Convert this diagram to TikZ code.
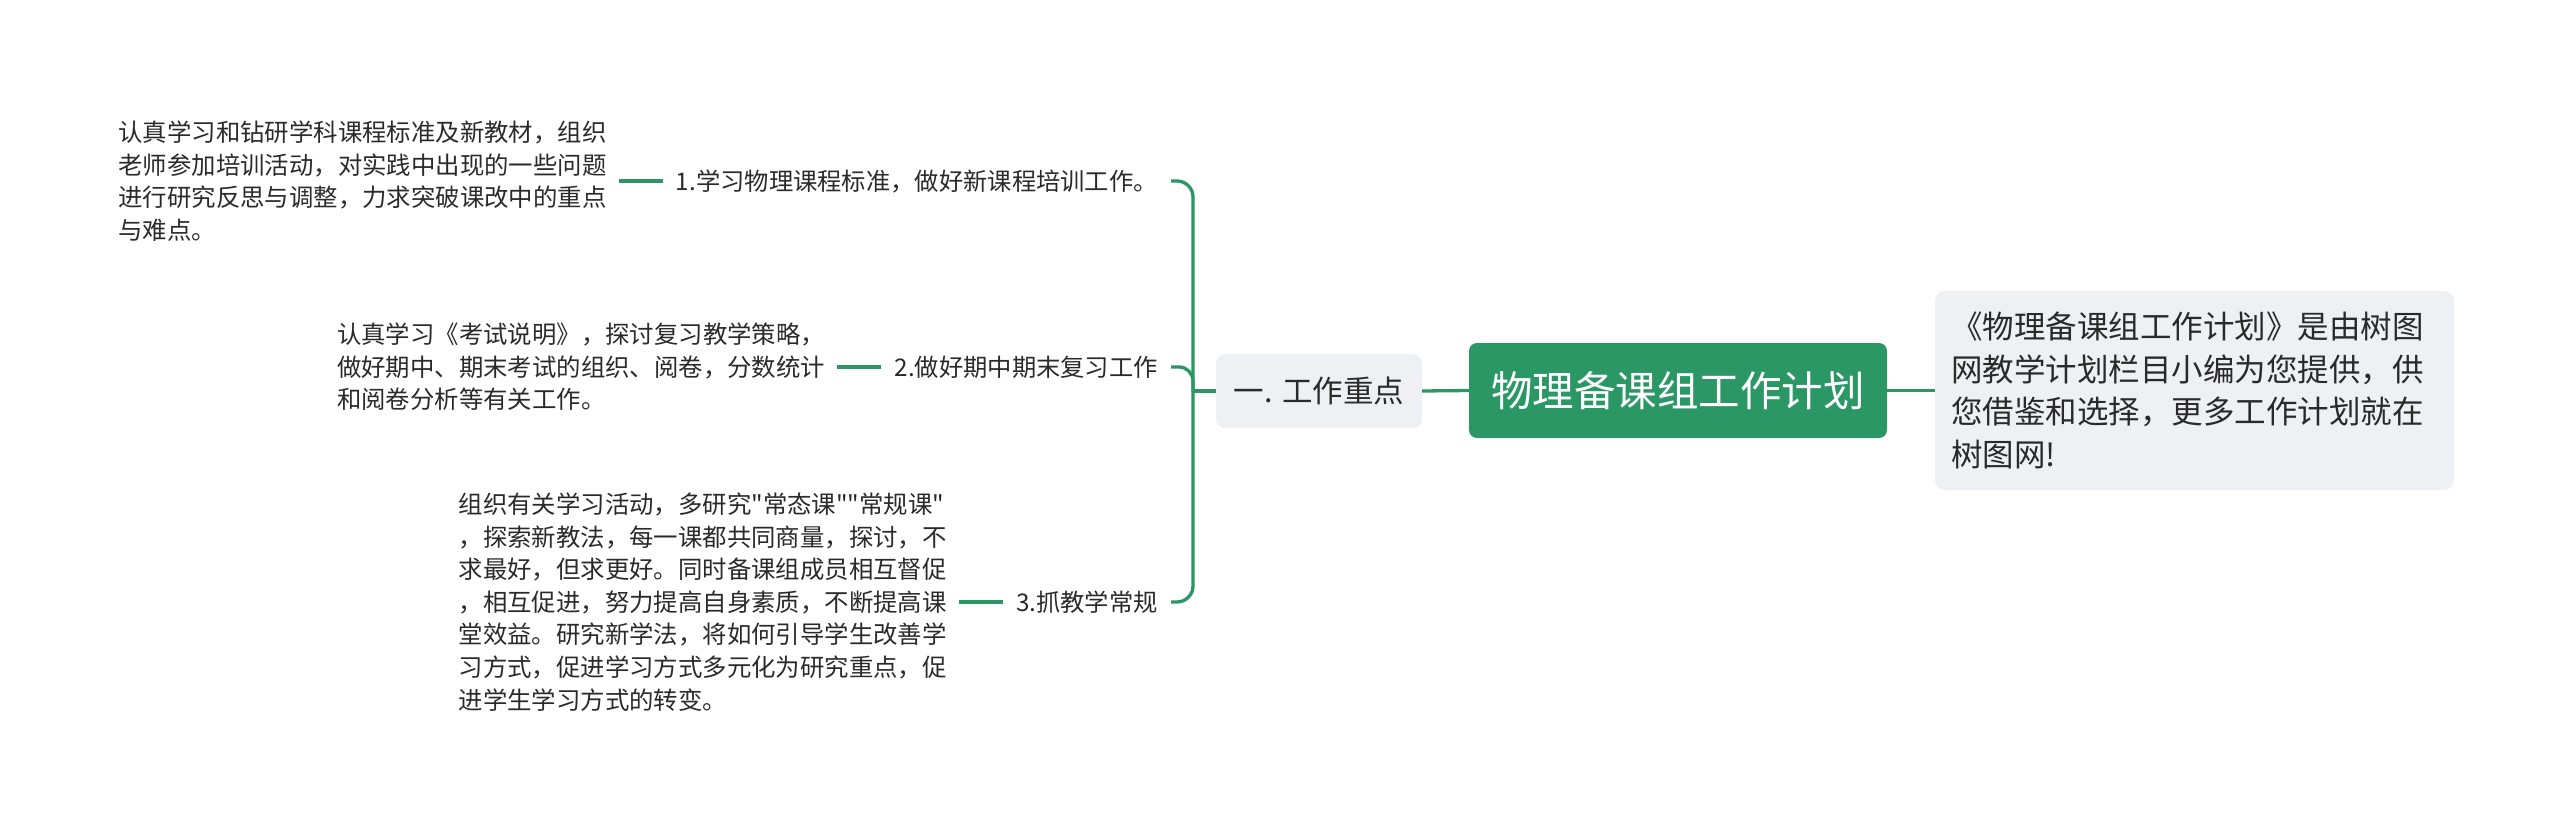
\documentclass[tikz,border=0pt]{standalone}
\usepackage{fontspec}
\setmainfont{Noto Sans CJK SC}[Ligatures=TeXOff]
\definecolor{mgreen}{HTML}{2B9765}
\definecolor{lgray}{HTML}{EEF0F3}
\definecolor{txt}{HTML}{2A2A2A}
\tikzset{
  rootbox/.style={fill=mgreen, text=white, rounded corners=8pt, minimum width=418pt, minimum height=95pt, inner sep=0pt, font=\fontsize{41.5}{50}\selectfont},
  secbox/.style={fill=lgray, text=txt, rounded corners=9pt, minimum width=206pt, minimum height=74pt, inner sep=0pt, font=\fontsize{30.5}{36}\selectfont},
  infobox/.style={fill=lgray, text=txt, rounded corners=10pt, text width=487pt, inner xsep=16pt, minimum height=199pt, align=left, font=\fontsize{31.5}{42.5}\selectfont},
  lab/.style={text=txt, inner xsep=13pt, inner ysep=2pt, font=\fontsize{24.3}{32.5}\selectfont},
  leaf/.style={text=txt, inner xsep=12pt, inner ysep=0pt, align=left, font=\fontsize{24.4}{32.6}\selectfont},
  conn/.style={draw=mgreen, line width=3.3pt},
}
\begin{document}
\begin{tikzpicture}[x=1pt,y=-1pt]
\useasboundingbox (0,0) rectangle (2560,829);
\node[rootbox] (root) at (1678,390.5) {物理备课组工作计划};
\node[secbox] (sec) at (1319,391) {一. 工作重点};
\node[infobox] (info) at (2194.5,390.5) {《物理备课组工作计划》是由树图\\网教学计划栏目小编为您提供，供\\您借鉴和选择，更多工作计划就在\\树图网!};
\coordinate (sp) at (1193,391);
\node[lab, anchor=east] (l1) at (1171,181) {1.学习物理课程标准，做好新课程培训工作。};
\node[lab, anchor=east] (l2) at (1171,367) {2.做好期中期末复习工作};
\node[lab, anchor=east] (l3) at (1171,602) {3.抓教学常规};
\node[leaf, anchor=east] (f1) at ([xshift=-44pt]l1.west) {认真学习和钻研学科课程标准及新教材，组织\\老师参加培训活动，对实践中出现的一些问题\\进行研究反思与调整，力求突破课改中的重点\\与难点。};
\node[leaf, anchor=east] (f2) at ([xshift=-44pt]l2.west) {认真学习《考试说明》，探讨复习教学策略，\\做好期中、期末考试的组织、阅卷，分数统计\\和阅卷分析等有关工作。};
\node[leaf, anchor=east] (f3) at ([xshift=-44pt]l3.west) {组织有关学习活动，多研究"常态课""常规课"\\，探索新教法，每一课都共同商量，探讨，不\\求最好，但求更好。同时备课组成员相互督促\\，相互促进，努力提高自身素质，不断提高课\\堂效益。研究新学法，将如何引导学生改善学\\习方式，促进学习方式多元化为研究重点，促\\进学生学习方式的转变。};
\draw[conn] (root.east) -- (info.west);
\draw[conn] (sec.east) -- (root.west);
\draw[conn] (sec.west) -- (sp);
\draw[conn, rounded corners=16pt] (sp) |- (l1.east);
\draw[conn, rounded corners=14pt] (sp) |- (l2.east);
\draw[conn, rounded corners=16pt] (sp) |- (l3.east);
\draw[conn] (l1.west) -- (f1.east);
\draw[conn] (l2.west) -- (f2.east);
\draw[conn] (l3.west) -- (f3.east);
\end{tikzpicture}
\end{document}
